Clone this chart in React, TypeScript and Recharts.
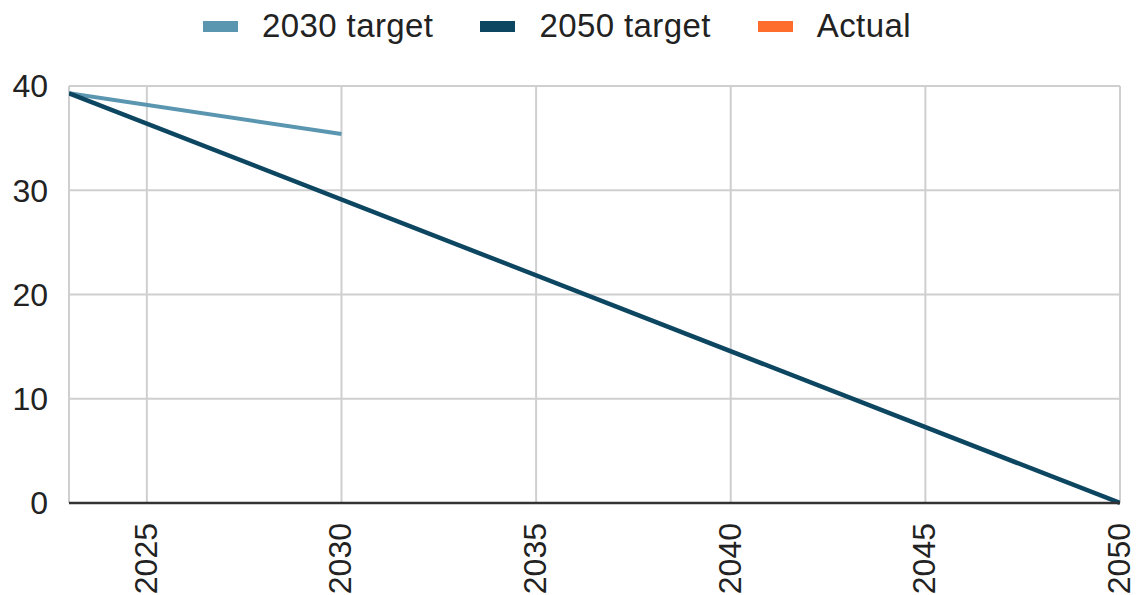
import React from "react";
import { LineChart, Line, XAxis, YAxis, CartesianGrid, Legend } from "recharts";

const target2030Years = [2023, 2030];
const target2030Values = [39.3, 35.4];
const target2050Years = [2023, 2050];
const target2050Values = [39.3, 0];
const actualYears: number[] = [];
const actualValues: number[] = [];
const xTicks = [2025, 2030, 2035, 2040, 2045, 2050];
const yTicks = [0, 10, 20, 30, 40];

const seriesNames = ["2030 target", "2050 target", "Actual"];
const seriesColors = ["#5b96b1", "#0d4661", "#ff6d2d"];

const zip = (xs: number[], ys: number[]) => xs.map((x, i) => ({ year: x, value: ys[i] }));
const data2030 = zip(target2030Years, target2030Values);
const data2050 = zip(target2050Years, target2050Values);
const dataActual = zip(actualYears, actualValues);

const FONT = "'Liberation Sans', Arial, sans-serif";

const XTick = (props: any) => {
  const { x, y, payload } = props;
  return (
    <g transform={`translate(${x},${y + 12})`}>
      <text transform="rotate(-90)" textAnchor="end" dy={10} fill="#222" fontSize={32} fontFamily={FONT}>
        {payload.value}
      </text>
    </g>
  );
};

const LegendContent = () => (
  <div style={{ height: 86, boxSizing: "border-box", paddingTop: 8, display: "flex", alignItems: "flex-start", marginLeft: 203, fontFamily: FONT, fontSize: 33, letterSpacing: 0.4, color: "#222" }}>
    {seriesNames.map((n, i) => (
      <div key={n} style={{ display: "flex", alignItems: "center", height: 36, marginRight: 47 }}>
        <div style={{ width: 35, height: 11, background: seriesColors[i], marginRight: 24 }} />
        <span style={{ lineHeight: "36px" }}>{n}</span>
      </div>
    ))}
  </div>
);

export default function App() {
  return (
    <div style={{ position: "absolute", left: 0, top: 0, background: "#fff" }}>
      <LineChart width={1137} height={595} margin={{ top: 0, right: 17, left: 0, bottom: 0 }}>
        <CartesianGrid stroke="#cfcfcf" strokeWidth={2} />
        <XAxis
          type="number"
          dataKey="year"
          domain={[2023, 2050]}
          ticks={xTicks}
          allowDataOverflow
          height={92}
          tickLine={false}
          axisLine={{ stroke: "#333", strokeWidth: 2.5 }}
          tick={<XTick />}
          interval={0}
        />
        <YAxis
          type="number"
          domain={[0, 40]}
          ticks={yTicks}
          width={69}
          axisLine={false}
          tickLine={false}
          tickMargin={15}
          tick={{ fill: "#222", fontSize: 32, fontFamily: FONT }}
        />
        <Legend verticalAlign="top" align="left" content={<LegendContent />} />
        <Line data={dataActual} dataKey="value" name="Actual" stroke={seriesColors[2]} strokeWidth={4} dot={false} isAnimationActive={false} />
        <Line data={data2030} dataKey="value" name="2030 target" stroke={seriesColors[0]} strokeWidth={4} dot={false} isAnimationActive={false} />
        <Line data={data2050} dataKey="value" name="2050 target" stroke={seriesColors[1]} strokeWidth={4.5} dot={false} isAnimationActive={false} />
      </LineChart>
    </div>
  );
}
